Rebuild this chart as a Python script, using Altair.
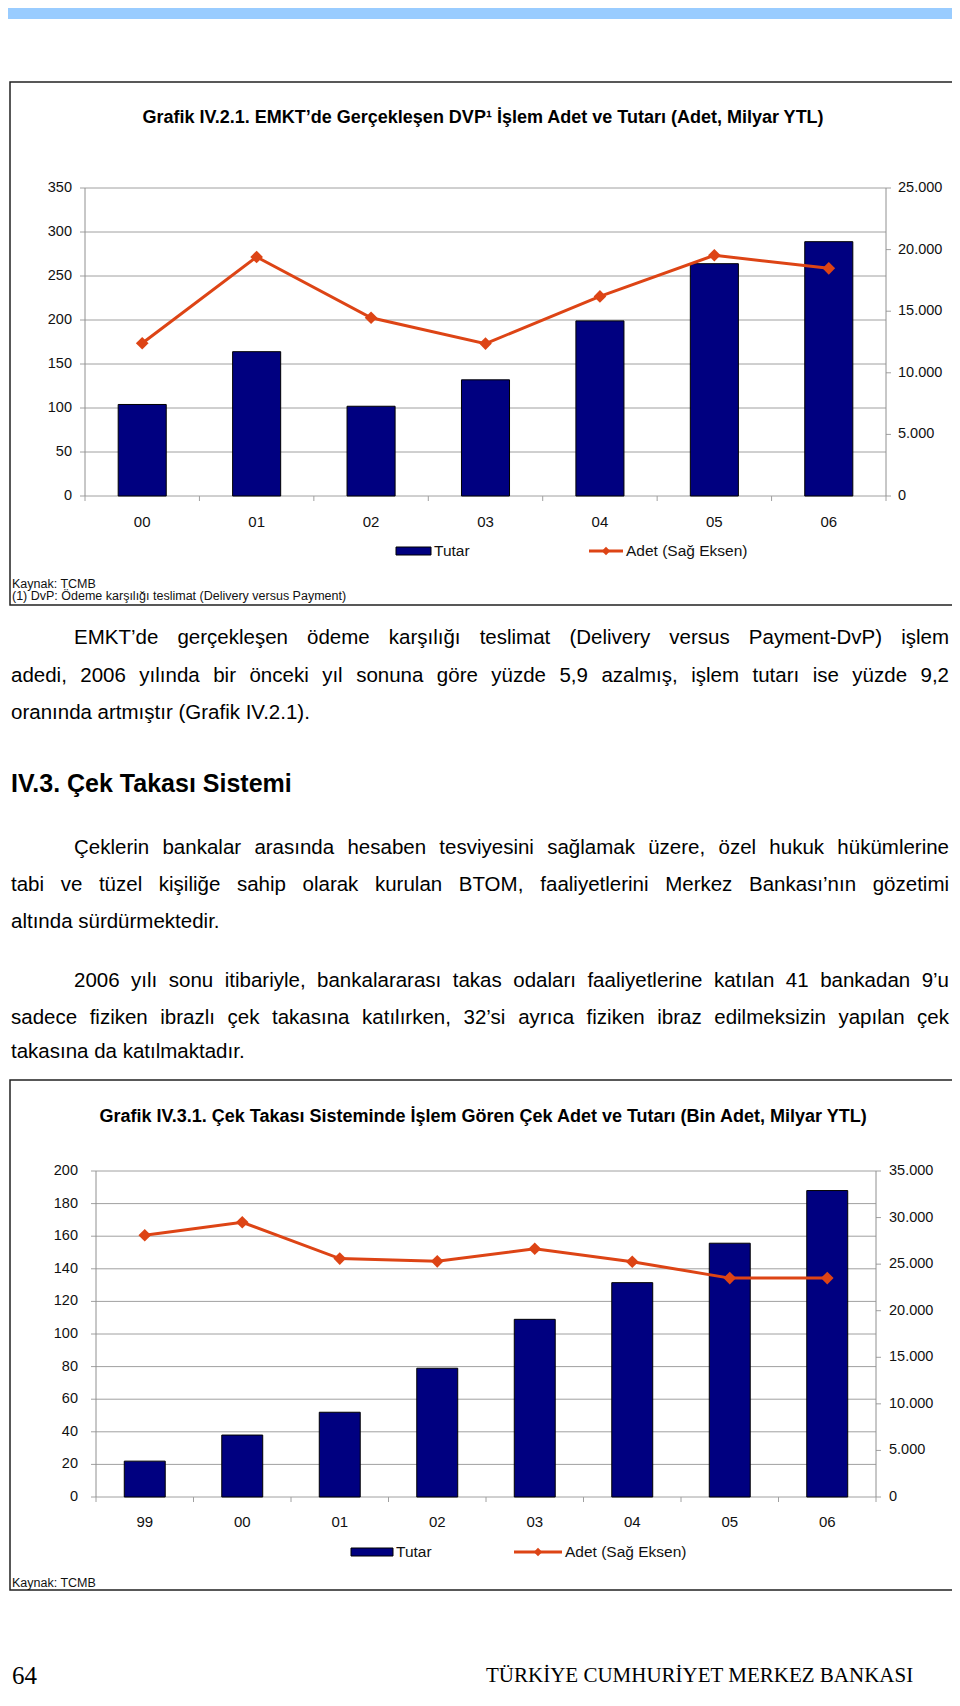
import altair as alt
import pandas as pd

# ---------------- data ----------------
years_dvp = ["00", "01", "02", "03", "04", "05", "06"]
tutar_dvp = [104, 164, 102, 132, 199, 264, 289]
adet_dvp = [12400, 19400, 14470, 12370, 16200, 19540, 18480]
left_ticks_dvp = [0, 50, 100, 150, 200, 250, 300, 350]
right_ticks_dvp = [0, 5000, 10000, 15000, 20000, 25000]

years_cek = ["99", "00", "01", "02", "03", "04", "05", "06"]
tutar_cek = [22, 38, 52, 79, 109, 131.5, 155.7, 188]
adet_cek = [28100, 29500, 25600, 25300, 26650, 25260, 23500, 23500]
left_ticks_cek = [0, 20, 40, 60, 80, 100, 120, 140, 160, 180, 200]
right_ticks_cek = [0, 5000, 10000, 15000, 20000, 25000, 30000, 35000]

title_dvp = "Grafik IV.2.1. EMKT’de Gerçekleşen DVP¹ İşlem Adet ve Tutarı (Adet, Milyar YTL)"
title_cek = "Grafik IV.3.1. Çek Takası Sisteminde İşlem Gören Çek Adet ve Tutarı (Bin Adet, Milyar YTL)"
legend_labels = ["Tutar", "Adet (Sağ Eksen)"]
source_dvp = ["Kaynak: TCMB", "(1) DvP: Ödeme karşılığı teslimat (Delivery versus Payment)"]
source_cek = ["Kaynak: TCMB"]

para1 = [
    "EMKT’de gerçekleşen ödeme karşılığı teslimat (Delivery versus Payment-DvP) işlem",
    "adedi, 2006 yılında bir önceki yıl sonuna göre yüzde 5,9 azalmış, işlem tutarı ise yüzde 9,2",
    "oranında artmıştır (Grafik IV.2.1).",
]
heading = "IV.3. Çek Takası Sistemi"
para2 = [
    "Çeklerin bankalar arasında hesaben tesviyesini sağlamak üzere, özel hukuk hükümlerine",
    "tabi ve tüzel kişiliğe sahip olarak kurulan BTOM, faaliyetlerini Merkez Bankası’nın gözetimi",
    "altında sürdürmektedir.",
]
para3 = [
    "2006 yılı sonu itibariyle, bankalararası takas odaları faaliyetlerine katılan 41 bankadan 9’u",
    "sadece fiziken ibrazlı çek takasına katılırken, 32’si ayrıca fiziken ibraz edilmeksizin yapılan çek",
    "takasına da katılmaktadır.",
]
footer_page = "64"
footer_name = "TÜRKİYE CUMHURİYET MERKEZ BANKASI"

# ---------------- style ----------------
M = 8
W_CANVAS, H_CANVAS = 944, 1684
FONT = "Liberation Sans"
SERIF = "Liberation Serif"
NAVY = "#000080"
ORANGE = "#DD4415"
GRID = "#A0A0A0"
INK = "#111111"
ONE = pd.DataFrame({"d": [0]})


def cx(v):
    return v - M


def cy(v):
    return v - M


def tr_num(v):
    return f"{v:,}".replace(",", ".")


# Arial / Liberation Sans advance widths (per 1000 em)
AW = {" ": 278, "(": 333, ")": 333, ",": 278, "-": 333, ".": 278, ":": 278, "’": 222,
      "A": 667, "B": 667, "C": 722, "D": 722, "E": 667, "F": 611, "G": 778, "H": 722, "I": 278,
      "J": 500, "K": 667, "L": 556, "M": 833, "N": 722, "O": 778, "P": 667, "Q": 778, "R": 722,
      "S": 667, "T": 611, "U": 722, "V": 667, "W": 944, "X": 667, "Y": 667, "Z": 611,
      "a": 556, "b": 556, "c": 500, "d": 556, "e": 556, "f": 278, "g": 556, "h": 556, "i": 222,
      "j": 222, "k": 500, "l": 222, "m": 833, "n": 556, "o": 556, "p": 556, "q": 556, "r": 333,
      "s": 500, "t": 278, "u": 556, "v": 500, "w": 722, "x": 500, "y": 500, "z": 500,
      "ç": 500, "ğ": 556, "ı": 278, "ö": 556, "ş": 500, "ü": 556, "İ": 278, "Ç": 722,
      "Ö": 778, "Ş": 667, "Ü": 722}


def tw(s, size):
    return sum(AW.get(c, 556) for c in s) * size / 1000.0


def texts(rows, **kw):
    df = pd.DataFrame([{"x": cx(x), "y": cy(y), "t": t} for x, y, t in rows])
    return alt.Chart(df).mark_text(**kw).encode(
        x=alt.X("x:Q", scale=None, axis=None),
        y=alt.Y("y:Q", scale=None, axis=None),
        text="t:N",
    )


def box(x0, y0, x1, y1, **kw):
    return alt.Chart(ONE).mark_rect(**kw).encode(
        x=alt.value(cx(x0)), x2=alt.value(cx(x1)), y=alt.value(cy(y0)), y2=alt.value(cy(y1))
    )


def rule(x0, y0, x1, y1, **kw):
    return alt.Chart(ONE).mark_rule(**kw).encode(
        x=alt.value(cx(x0)), x2=alt.value(cx(x1)), y=alt.value(cy(y0)), y2=alt.value(cy(y1))
    )


def paragraph(lines, ys, size, x0, x_indent, x1):
    rows = []
    for k, (line, y) in enumerate(zip(lines, ys)):
        start = x_indent if k == 0 else x0
        words = line.split(" ")
        if k == len(lines) - 1 or len(words) == 1:
            rows.append((start, y, line))
            continue
        total = sum(tw(w, size) for w in words)
        gap = (x1 - start - total) / (len(words) - 1)
        x = start
        for w in words:
            rows.append((x, y, w))
            x += tw(w, size) + gap
    return texts(rows, align="left", baseline="middle", font=FONT, fontSize=size, color="#000")


def dual_chart(cats, tut, adt, lt, rt, g):
    n = len(cats)
    xs = alt.Scale(domain=[-0.5, n - 0.5], range=[cx(g["L"]), cx(g["R"])], nice=False, zero=False)
    yl = alt.Scale(domain=[0, lt[-1]], range=[cy(g["B"]), cy(g["T"])], nice=False, zero=False)
    yr = alt.Scale(domain=[0, rt[-1]], range=[cy(g["B"]), cy(g["T"])], nice=False, zero=False)

    data = pd.DataFrame({"i": list(range(n)), "cat": cats, "tutar": tut, "adet": adt})
    ldf = pd.DataFrame({"v": lt, "lab": [tr_num(v) for v in lt]})
    rdf = pd.DataFrame({"v": rt, "lab": [tr_num(v) for v in rt]})
    bdf = pd.DataFrame({"b": [k - 0.5 for k in range(n + 1)]})

    layers = []
    # frame
    layers.append(box(g["bx0"], g["by0"], g["bx1"], g["by1"], fill="white", stroke="#222", strokeWidth=1.5))
    # gridlines (left scale)
    layers.append(alt.Chart(ldf).mark_rule(color=GRID, strokeWidth=1).encode(
        y=alt.Y("v:Q", scale=yl, axis=None), x=alt.value(cx(g["L"])), x2=alt.value(cx(g["R"]))))
    # left ticks
    layers.append(alt.Chart(ldf).mark_rule(color=GRID, strokeWidth=1).encode(
        y=alt.Y("v:Q", scale=yl, axis=None), x=alt.value(cx(g["L"] - 5)), x2=alt.value(cx(g["L"]))))
    # right ticks
    layers.append(alt.Chart(rdf).mark_rule(color=GRID, strokeWidth=1).encode(
        y=alt.Y("v:Q", scale=yr, axis=None), x=alt.value(cx(g["R"])), x2=alt.value(cx(g["R"] + 5))))
    # axis lines
    layers.append(rule(g["L"], g["T"], g["L"], g["B"], color="#909090", strokeWidth=1))
    layers.append(rule(g["R"], g["T"], g["R"], g["B"], color="#909090", strokeWidth=1))
    # x boundary ticks
    layers.append(alt.Chart(bdf).mark_rule(color=GRID, strokeWidth=1).encode(
        x=alt.X("b:Q", scale=xs, axis=None), y=alt.value(cy(g["B"])), y2=alt.value(cy(g["B"] + 5))))
    # bars
    layers.append(alt.Chart(data).transform_calculate(
        x0="datum.i - 0.21", x1="datum.i + 0.21", base="0"
    ).mark_rect(fill=NAVY, stroke="#000", strokeWidth=1).encode(
        x=alt.X("x0:Q", scale=xs, axis=None), x2="x1:Q",
        y=alt.Y("tutar:Q", scale=yl, axis=None), y2="base:Q"))
    # line + diamonds (right scale)
    layers.append(alt.Chart(data).mark_line(color=ORANGE, strokeWidth=3).encode(
        x=alt.X("i:Q", scale=xs, axis=None), y=alt.Y("adet:Q", scale=yr, axis=None)))
    layers.append(alt.Chart(data).mark_point(shape="diamond", filled=True, color=ORANGE, size=160, opacity=1).encode(
        x=alt.X("i:Q", scale=xs, axis=None), y=alt.Y("adet:Q", scale=yr, axis=None)))
    # axis labels
    layers.append(alt.Chart(ldf).mark_text(align="right", baseline="middle", font=FONT, fontSize=14.5, color=INK).encode(
        y=alt.Y("v:Q", scale=yl, axis=None), x=alt.value(cx(g["labL"])), text="lab:N"))
    layers.append(alt.Chart(rdf).mark_text(align="left", baseline="middle", font=FONT, fontSize=14.5, color=INK).encode(
        y=alt.Y("v:Q", scale=yr, axis=None), x=alt.value(cx(g["labR"])), text="lab:N"))
    layers.append(alt.Chart(data).mark_text(align="center", baseline="middle", font=FONT, fontSize=15, color=INK).encode(
        x=alt.X("i:Q", scale=xs, axis=None), y=alt.value(cy(g["labX"])), text="cat:N"))
    # title
    layers.append(texts([(g["titleX"], g["titleY"], g["title"])], align="center", baseline="middle",
                        font=FONT, fontSize=18, fontWeight="bold", color="#000"))
    # legend
    ly = g["legY"]
    layers.append(box(g["sw0"], ly - 4, g["sw1"], ly + 4, fill=NAVY, stroke="#000", strokeWidth=1))
    layers.append(rule(g["ln0"], ly, g["ln1"], ly, color=ORANGE, strokeWidth=3))
    layers.append(alt.Chart(ONE).mark_point(shape="diamond", filled=True, color=ORANGE, size=70, opacity=1).encode(
        x=alt.value(cx((g["ln0"] + g["ln1"]) / 2)), y=alt.value(cy(ly))))
    layers.append(texts([(g["sw1"] + 3, ly, legend_labels[0]), (g["ln1"] + 3, ly, legend_labels[1])],
                        align="left", baseline="middle", font=FONT, fontSize=15.5, color=INK))
    # source
    layers.append(texts([(12, y, t) for y, t in zip(g["srcY"], g["src"])], align="left", baseline="middle",
                        font=FONT, fontSize=12.5, color=INK))
    return layers


g1 = dict(L=85, R=886, T=188, B=496, labL=72, labR=898, labX=522,
          bx0=10, by0=82, bx1=955, by1=605, titleX=483, titleY=118, title=title_dvp,
          legY=551, sw0=396, sw1=431, ln0=589, ln1=623, srcY=[584, 596], src=source_dvp)
g2 = dict(L=96, R=876, T=1171, B=1497, labL=78, labR=889, labX=1522,
          bx0=10, by0=1080, bx1=955, by1=1590, titleX=483, titleY=1117, title=title_cek,
          legY=1552, sw0=351, sw1=393, ln0=514, ln1=562, srcY=[1583], src=source_cek)

layers = []
# header bar
layers.append(box(8, 8, 952, 19, fill="#99CCFF", strokeWidth=0))
layers += dual_chart(years_dvp, tutar_dvp, adet_dvp, left_ticks_dvp, right_ticks_dvp, g1)

BODY = 20.5
layers.append(paragraph(para1, [638, 676, 713], BODY, 11, 74, 949))
layers.append(texts([(11, 784, heading)], align="left", baseline="middle", font=FONT, fontSize=25,
                    fontWeight="bold", color="#000"))
layers.append(paragraph(para2, [848, 885, 922], BODY, 11, 74, 949))
layers.append(paragraph(para3, [981, 1018, 1052], BODY, 11, 74, 949))

layers += dual_chart(years_cek, tutar_cek, adet_cek, left_ticks_cek, right_ticks_cek, g2)

layers.append(texts([(12, 1676, footer_page)], align="left", baseline="middle", font=SERIF, fontSize=25, color="#000"))
layers.append(texts([(486, 1676, footer_name)], align="left", baseline="middle", font=SERIF, fontSize=21, color="#000"))

chart = alt.layer(*layers).resolve_scale(x="independent", y="independent").properties(
    width=W_CANVAS, height=H_CANVAS, autosize=alt.AutoSizeParams(type="none"), padding=0,
    background="white",
).configure_view(stroke=None)

chart.save("out.html", embed_options={"renderer": "svg", "actions": False})
